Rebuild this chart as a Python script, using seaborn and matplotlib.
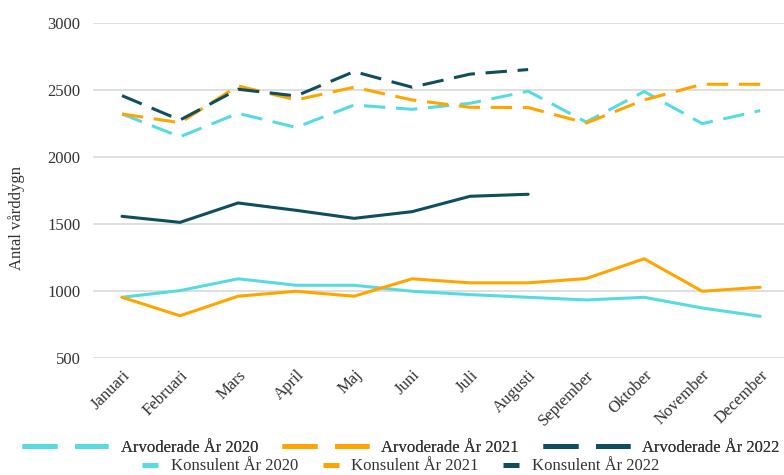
import matplotlib
matplotlib.use("Agg")
import matplotlib.pyplot as plt
from matplotlib.lines import Line2D
import seaborn as sns
import pandas as pd
import numpy as np

months = ["Januari", "Februari", "Mars", "April", "Maj", "Juni", "Juli",
          "Augusti", "September", "Oktober", "November", "December"]
arv_2020 = [2320, 2150, 2325, 2220, 2387, 2355, 2400, 2490, 2260, 2488, 2248, 2345]
arv_2021 = [2320, 2255, 2530, 2425, 2520, 2425, 2370, 2368, 2252, 2425, 2542, 2542]
arv_2022 = [2457, 2275, 2505, 2455, 2637, 2520, 2618, 2652]
kon_2020 = [950, 1000, 1088, 1040, 1040, 995, 970, 950, 930, 950, 870, 808]
kon_2021 = [950, 812, 958, 995, 958, 1088, 1058, 1058, 1090, 1238, 995, 1025]
kon_2022 = [1555, 1510, 1655, 1600, 1540, 1590, 1705, 1720]
yticks = [500, 1000, 1500, 2000, 2500, 3000]

C_CYAN = "#58DAE1"
C_ORANGE = "#FFA500"
C_DARK = "#0E4E5D"
FS = 12

sns.set_theme(style="white")
plt.rcParams["font.family"] = ["Liberation Serif", "DejaVu Serif"]
plt.rcParams["text.color"] = "#333333"

fig = plt.figure(figsize=(7.84, 4.75), dpi=100)
ax = fig.add_axes([93 / 784, 1 - 357.5 / 475, 691 / 784, 334.5 / 475])

series = [
    ("Arvoderade År 2020", arv_2020, C_CYAN, True),
    ("Arvoderade År 2021", arv_2021, C_ORANGE, True),
    ("Arvoderade År 2022", arv_2022, C_DARK, True),
    ("Konsulent År 2020", kon_2020, C_CYAN, False),
    ("Konsulent År 2021", kon_2021, C_ORANGE, False),
    ("Konsulent År 2022", kon_2022, C_DARK, False),
]

for name, vals, col, dashed in series:
    df = pd.DataFrame({"x": np.arange(len(vals)), "y": vals})
    ls = (0, (7, 3.5)) if dashed else "-"
    sns.lineplot(data=df, x="x", y="y", ax=ax, color=col, lw=2.2,
                 linestyle=ls, legend=False)

ax.set_xlim(-0.5, 11.41)
ax.set_ylim(500, 3000)
ax.set_yticks(yticks)
ax.set_yticklabels([str(v) for v in yticks], fontsize=FS, color="#333333")
ax.set_xticks(np.arange(len(months)))
ax.set_xticklabels(months, fontsize=FS, color="#333333", rotation=45,
                   ha="right", va="top", rotation_mode="anchor")
ax.tick_params(axis="x", pad=7, length=0)
ax.tick_params(axis="y", pad=9, length=0)
for s in ax.spines.values():
    s.set_visible(False)
ax.grid(axis="y", color="#D9D9D9", lw=1.2)
ax.grid(axis="x", visible=False)
ax.set_axisbelow(True)
ax.set_xlabel("")
ax.set_ylabel("Antal vårddygn", fontsize=FS, color="#333333")
ax.yaxis.set_label_coords(-0.098, 0.417)

h1 = [Line2D([], [], color=c, lw=3.6, linestyle=(0, (7, 3.5)))
      for c in (C_CYAN, C_ORANGE, C_DARK)]
l1 = fig.legend(h1, [s[0] for s in series[:3]], loc="center",
                bbox_to_anchor=(0.511, 0.057), ncol=3, frameon=False,
                fontsize=FS, handlelength=5.2, handletextpad=0.75,
                columnspacing=1.45, borderpad=0, borderaxespad=0)
h2 = [Line2D([], [], color=c, lw=3.6, solid_capstyle="butt")
      for c in (C_CYAN, C_ORANGE, C_DARK)]
l2 = fig.legend(h2, [s[0] for s in series[3:]], loc="center",
                bbox_to_anchor=(0.511, 0.018), ncol=3, frameon=False,
                fontsize=FS, handlelength=0.95, handletextpad=0.75,
                columnspacing=1.5, borderpad=0, borderaxespad=0)
fig.add_artist(l1)

fig.savefig("out.png", dpi=100)
